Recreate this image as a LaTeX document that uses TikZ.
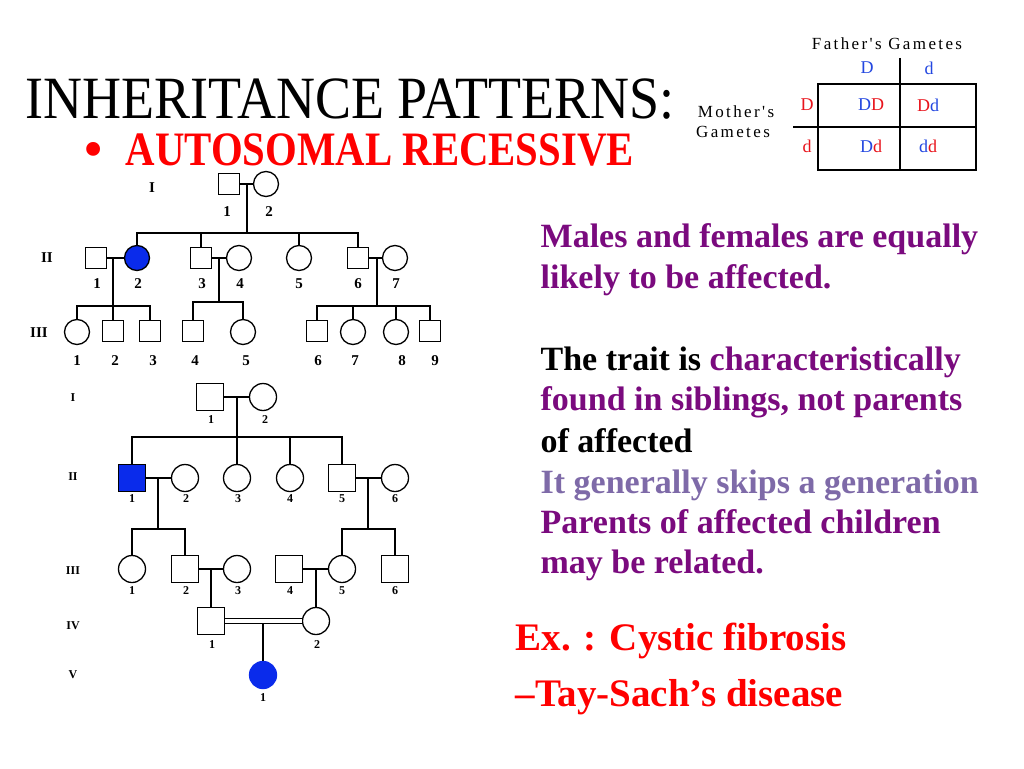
\documentclass[tikz,border=0pt]{standalone}
\usepackage{fontspec}
\setmainfont{Liberation Serif}
\newfontfamily\gamfont{Liberation Serif}[LetterSpace=14.0]
\usepackage{graphicx}
\usetikzlibrary{positioning}
\definecolor{affblue}{HTML}{0A2BEB}
\definecolor{gamred}{HTML}{E8141C}
\definecolor{gamblue}{HTML}{2347E0}
\definecolor{plum}{HTML}{7A0A7E}
\definecolor{lilac}{HTML}{7E6AA8}
\definecolor{titlered}{HTML}{FF0000}
\tikzset{
  tmale/.style={draw, line width=1.3pt, rectangle, minimum size=21pt, inner sep=0pt},
  tfemale/.style={draw, line width=1.3pt, circle, minimum size=25pt, inner sep=0pt},
  bmale/.style={draw, line width=1.3pt, rectangle, minimum size=27pt, inner sep=0pt},
  bfemale/.style={draw, line width=1.3pt, circle, minimum size=27pt, inner sep=0pt},
  tnum/.style={inner sep=0pt, font=\bfseries\fontsize{15}{15}\selectfont},
  bnum/.style={inner sep=0pt, font=\bfseries\fontsize{12}{12}\selectfont},
  note/.style={anchor=base west, inner sep=0pt, font=\bfseries\fontsize{34}{34}\selectfont},
  gam/.style={inner sep=0pt, font=\fontsize{18}{18}\selectfont}
}

\begin{document}
\begin{tikzpicture}[x=1pt, y=-1pt, line width=1.3pt]
\useasboundingbox (0,0) rectangle (1024,768);

% title
\node[anchor=base west, inner sep=0pt, font=\fontsize{60}{60}\selectfont] (title) at (25,118)
 {\scalebox{0.9}[1]{INHERITANCE PATTERNS:}};
\node[anchor=base, inner sep=0pt, text=titlered, font=\fontsize{34}{34}\selectfont] (bul) at (94,168) {\scalebox{1.7}{\textbullet}};
\node[anchor=base west, inner sep=0pt, text=titlered, font=\bfseries\fontsize{48}{48}\selectfont] (sub) at (125,165)
 {\scalebox{0.85}[1]{AUTOSOMAL RECESSIVE}};

% first pedigree
\node[tmale] (t11) at (229,184) {};
\node[tfemale] (t12) at (266,184) {};
\coordinate (tc1) at (247,184);
\coordinate (ts1) at (247,233);
\draw (t11) -- (t12);
\draw (tc1) -- (ts1);
\node[tmale] (t21) at (96,258) {};
\node[tfemale, fill=affblue] (t22) at (137,258) {};
\node[tmale] (t23) at (201,258) {};
\node[tfemale] (t24) at (239,258) {};
\node[tfemale] (t25) at (299,258) {};
\node[tmale] (t26) at (358,258) {};
\node[tfemale] (t27) at (395,258) {};
\draw (t22) |- (ts1) -| (t26);
\draw (ts1) -| (t23);
\draw (ts1) -| (t25);
\draw (t21) -- (t22);
\draw (t23) -- (t24);
\draw (t26) -- (t27);
\coordinate (tc2) at (113,258);
\coordinate (ts2) at (113,306);
\coordinate (tc3) at (219,258);
\coordinate (ts3) at (219,302);
\coordinate (tc4) at (377,258);
\coordinate (ts4) at (377,306);
\draw (tc2) -- (ts2);
\draw (tc3) -- (ts3);
\draw (tc4) -- (ts4);
\node[tfemale] (t31) at (77,332) {};
\node[tmale] (t32) at (113,331) {};
\node[tmale] (t33) at (150,331) {};
\node[tmale] (t34) at (193,331) {};
\node[tfemale] (t35) at (243,332) {};
\node[tmale] (t36) at (317,331) {};
\node[tfemale] (t37) at (353,332) {};
\node[tfemale] (t38) at (396,332) {};
\node[tmale] (t39) at (430,331) {};
\draw (t31) |- (ts2) -| (t33);
\draw (ts2) -- (t32);
\draw (t34) |- (ts3) -| (t35);
\draw (t36) |- (ts4) -| (t39);
\draw (ts4) -| (t37);
\draw (ts4) -| (t38);
\node[tnum] (tgI) at (152,188) {I};
\node[tnum] (tgII) at (47,258) {II};
\node[tnum] (tgIII) at (39,333) {III};
\foreach \n/\x in {1/227,2/269}
  \node[tnum] (tl1\n) at (\x,212) {\n};
\foreach \n/\x in {1/97,2/138,3/202,4/240,5/299,6/358,7/396}
  \node[tnum] (tl2\n) at (\x,284) {\n};
\foreach \n/\x in {1/77,2/115,3/153,4/195,5/246,6/318,7/355,8/402,9/435}
  \node[tnum] (tl3\n) at (\x,361) {\n};

% second pedigree
\node[bmale] (b11) at (210,397) {};
\node[bfemale] (b12) at (263,397) {};
\coordinate (bc1) at (237,397);
\coordinate (bs1) at (237,437);
\draw (b11) -- (b12);
\draw (bc1) -- (bs1);
\node[bmale, fill=affblue] (b21) at (132,478) {};
\node[bfemale] (b22) at (185,478) {};
\node[bfemale] (b23) at (237,478) {};
\node[bfemale] (b24) at (290,478) {};
\node[bmale] (b25) at (342,478) {};
\node[bfemale] (b26) at (395,478) {};
\draw (b21) |- (bs1) -| (b25);
\draw (bs1) -- (b23);
\draw (bs1) -| (b24);
\draw (b21) -- (b22);
\draw (b25) -- (b26);
\coordinate (bc2) at (158,478);
\coordinate (bs2) at (158,529);
\coordinate (bc3) at (368,478);
\coordinate (bs3) at (368,529);
\draw (bc2) -- (bs2);
\draw (bc3) -- (bs3);
\node[bfemale] (b31) at (132,569) {};
\node[bmale] (b32) at (185,569) {};
\node[bfemale] (b33) at (237,569) {};
\node[bmale] (b34) at (289,569) {};
\node[bfemale] (b35) at (342,569) {};
\node[bmale] (b36) at (395,569) {};
\draw (b31) |- (bs2) -| (b32);
\draw (b35) |- (bs3) -| (b36);
\draw (b32) -- (b33);
\draw (b34) -- (b35);
\coordinate (bc4) at (211,569);
\coordinate (bc5) at (316,569);
\node[bmale] (b41) at (211,621) {};
\node[bfemale] (b42) at (316,621) {};
\draw (bc4) -- (b41);
\draw (bc5) -- (b42);
\draw[double, line width=1.2pt, double distance=3.6pt] (b41) -- (b42);
\coordinate (bc6) at (263,624);
\node[bfemale, fill=affblue, draw=affblue] (b51) at (263,675) {};
\draw (bc6) -- (b51);
\foreach \g/\y in {I/398,II/477,III/571,IV/626,V/675}
  \node[bnum] (bg\g) at (73,\y) {\g};
\foreach \n/\x in {1/211,2/265}
  \node[bnum] (bl1\n) at (\x,420) {\n};
\foreach \n/\x in {1/132,2/186,3/238,4/290,5/342,6/395} {
  \node[bnum] (bl2\n) at (\x,499) {\n};
  \node[bnum] (bl3\n) at (\x,591) {\n};
}
\node[bnum] (bl41) at (212,645) {1};
\node[bnum] (bl42) at (317,645) {2};
\node[bnum] (bl51) at (263,698) {1};

% punnett square
\draw[line width=1.5pt] (818,84) rectangle (976,170);
\draw[line width=1.5pt] (900,58) -- (900,170);
\draw[line width=1.5pt] (793,127) -- (976,127);
\node[anchor=base, inner sep=0pt, font=\gamfont\fontsize{17}{17}\selectfont] (fg) at (887,49) {Father's Gametes};
\node[anchor=base, inner sep=0pt, font=\gamfont\fontsize{17}{17}\selectfont] (mg1) at (736,117) {Mother's};
\node[anchor=base, inner sep=0pt, font=\gamfont\fontsize{17}{17}\selectfont] (mg2) at (733,137) {Gametes};
\node[gam, text=gamblue] (fD) at (867,68) {D};
\node[gam, text=gamblue] (fd) at (929,68) {d};
\node[gam, text=gamred] (mD) at (807,105) {D};
\node[gam, text=gamred] (md) at (807,146) {d};
\node[gam] (DD) at (871,105) {\textcolor{gamblue}{D}\textcolor{gamred}{D}};
\node[gam] (Dd1) at (928,105) {\textcolor{gamred}{D}\textcolor{gamblue}{d}};
\node[gam] (Dd2) at (871,146) {\textcolor{gamblue}{D}\textcolor{gamred}{d}};
\node[gam] (dd) at (928,146) {\textcolor{gamblue}{d}\textcolor{gamred}{d}};

% notes
\node[note, text=plum] (n1) at (540,247) {Males and females are equally};
\node[note, text=plum] (n2) at (540,288) {likely to be affected.};
\node[note] (n3) at (540,370) {The trait is \textcolor{plum}{characteristically}};
\node[note, text=plum] (n4) at (540,410) {found in siblings, not parents};
\node[note] (n5) at (540,452) {of affected};
\node[note, text=lilac] (n6) at (540,493) {It generally skips a generation};
\node[note, text=plum] (n7) at (540,533) {Parents of affected children};
\node[note, text=plum] (n8) at (540,573) {may be related.};
\node[note, text=titlered, font=\bfseries\fontsize{39}{39}\selectfont] (ex1) at (515,650) {Ex. : Cystic fibrosis};
\node[note, text=titlered, font=\bfseries\fontsize{39}{39}\selectfont] (ex2) at (515,706) {\textendash Tay-Sach's disease};
\end{tikzpicture}
\end{document}
